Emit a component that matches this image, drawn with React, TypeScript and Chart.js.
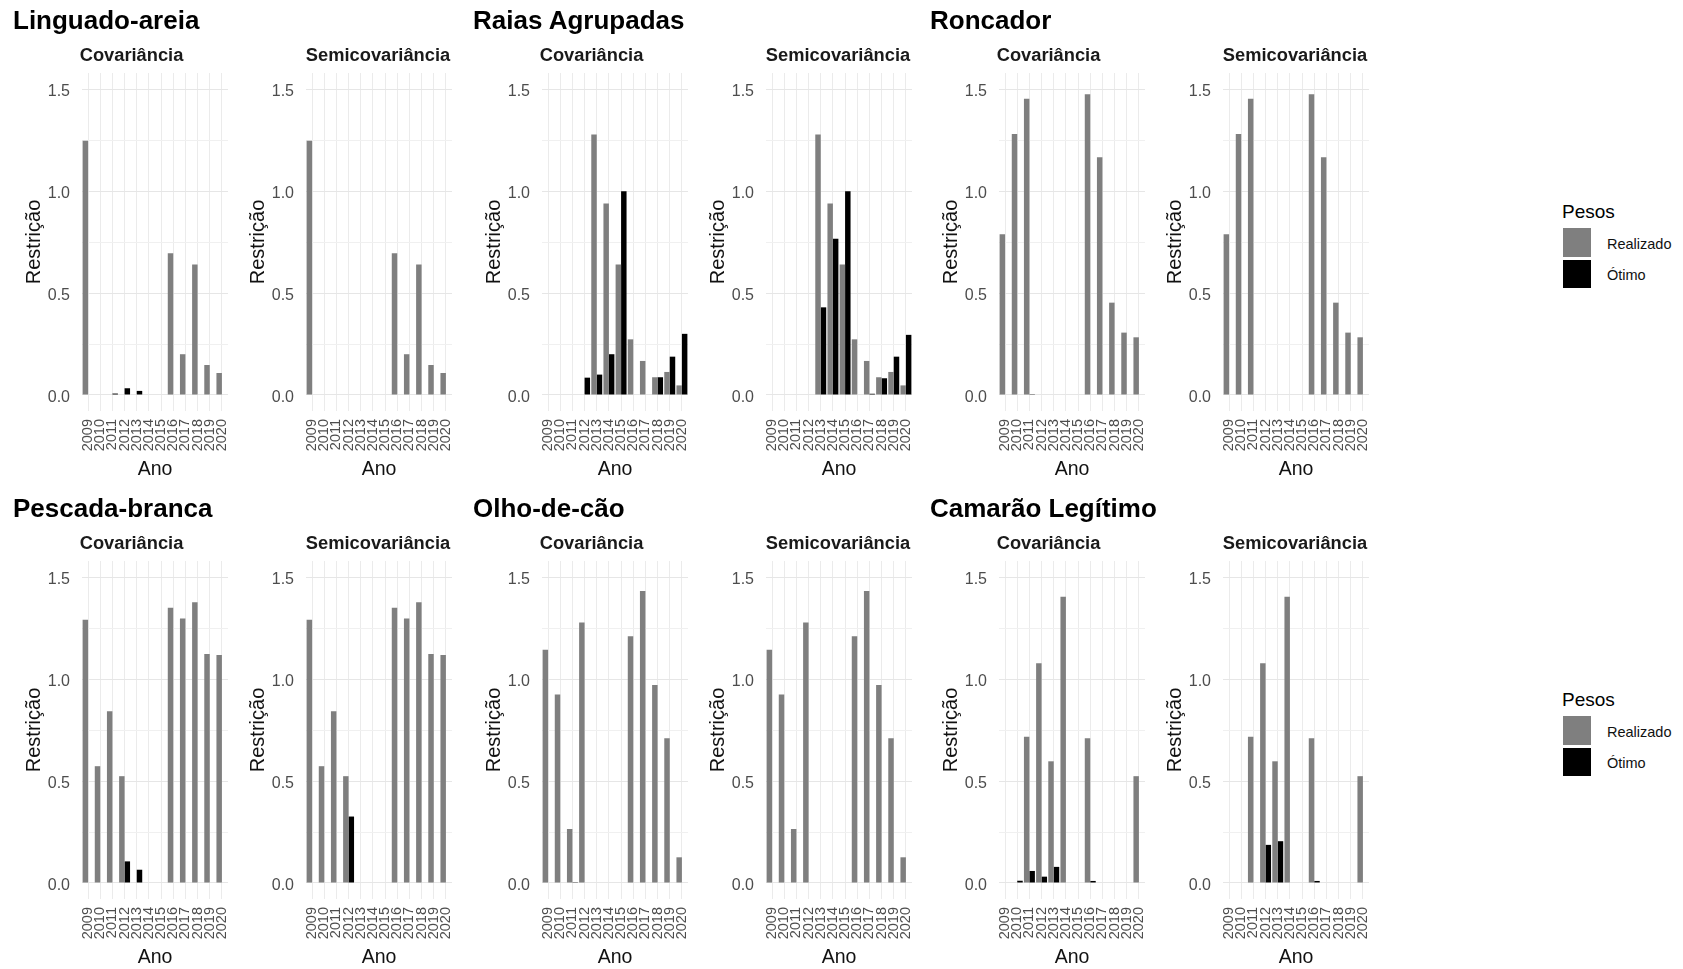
import React, { useEffect, useRef } from 'react';
import { Chart, registerables } from 'chart.js';

Chart.register(...registerables);

const FONT = '"Liberation Sans", Arial, Helvetica, sans-serif';

// ---------- data ----------
const years = ['2009', '2010', '2011', '2012', '2013', '2014', '2015', '2016', '2017', '2018', '2019', '2020'];
const yTickValues = [0, 0.25, 0.5, 0.75, 1, 1.25, 1.5];
const Y_MIN = -0.0786;
const Y_MAX = 1.58;

const speciesNames = ['Linguado-areia', 'Raias Agrupadas', 'Roncador', 'Pescada-branca', 'Olho-de-cão', 'Camarão Legítimo'];
const methodNames = ['Covariância', 'Semicovariância'];
const legendTitle = 'Pesos';
const seriesNames = ['Realizado', 'Ótimo'];
const xTitle = 'Ano';
const yTitle = 'Restrição';

const _ = null;
// Linguado-areia
const linguadoRealizado = [1.247, _, _, _, _, _, _, 0.696, 0.2, 0.64, 0.147, 0.108];
const linguadoCovOtimo = [_, _, 0.007, 0.033, 0.02, _, _, _, _, _, _, _];
const linguadoSemiOtimo = [_, _, _, _, _, _, _, _, _, _, _, _];
// Raias Agrupadas
const raiasRealizado = [_, _, _, _, 1.278, 0.94, 0.64, 0.273, 0.167, 0.087, 0.113, 0.047];
const raiasCovOtimo = [_, _, _, 0.085, 0.1, 0.2, 1.0, _, _, 0.087, 0.188, 0.3];
const raiasSemiOtimo = [_, _, _, _, 0.43, 0.766, 1.0, _, 0.006, 0.082, 0.188, 0.295];
// Roncador
const roncadorRealizado = [0.789, 1.281, 1.453, _, _, _, _, 1.475, 1.167, 0.453, 0.306, 0.283];
const roncadorCovOtimo = [_, _, 0.004, _, _, _, _, _, _, _, _, _];
const roncadorSemiOtimo = [_, _, _, _, _, _, _, _, _, _, _, _];
// Pescada-branca
const pescadaRealizado = [1.291, 0.573, 0.843, 0.524, _, _, _, 1.35, 1.298, 1.378, 1.124, 1.118];
const pescadaCovOtimo = [_, _, _, 0.106, 0.065, _, _, _, _, _, _, _];
const pescadaSemiOtimo = [_, _, _, 0.326, _, _, _, _, _, _, _, _];
// Olho-de-cão
const olhoRealizado = [1.144, 0.925, 0.265, 1.278, _, _, _, 1.21, 1.432, 0.972, 0.71, 0.126];
const olhoCovOtimo = [_, _, 0.004, _, _, _, _, _, _, _, _, _];
const olhoSemiOtimo = [_, _, _, _, _, _, _, _, _, _, _, _];
// Camarão Legítimo
const camaraoRealizado = [_, _, 0.718, 1.078, 0.597, 1.404, _, 0.71, _, _, _, 0.524];
const camaraoCovOtimo = [_, 0.011, 0.059, 0.031, 0.079, _, _, 0.01, _, _, _, _];
const camaraoSemiOtimo = [_, _, _, 0.187, 0.205, _, _, 0.01, _, _, _, _];

const realizadoBySpecies = [linguadoRealizado, raiasRealizado, roncadorRealizado, pescadaRealizado, olhoRealizado, camaraoRealizado];
const otimoBySpecies = [
  [linguadoCovOtimo, linguadoSemiOtimo],
  [raiasCovOtimo, raiasSemiOtimo],
  [roncadorCovOtimo, roncadorSemiOtimo],
  [pescadaCovOtimo, pescadaSemiOtimo],
  [olhoCovOtimo, olhoSemiOtimo],
  [camaraoCovOtimo, camaraoSemiOtimo],
];

// ---------- layout ----------
const BLOCK_X = [0, 460, 917];
const ROW_DY = 488;
const AREA_OFFSET = [82, 306]; // chart area left relative to block
const Y_AXIS_W = 70;
const AREA_W = 146;
const CANVAS_W = [239, 284];
const CANVAS_TOP = 30;
const CANVAS_H = 455;

const isMajor = (v: number) => Math.abs(v * 2 - Math.round(v * 2)) < 1e-9;

type PanelProps = {
  left: number;
  top: number;
  width: number;
  height: number;
  title: string;
  realizado: (number | null)[];
  otimo: (number | null)[];
};

function Panel({ left, top, width, height, title, realizado, otimo }: PanelProps) {
  const ref = useRef<HTMLCanvasElement>(null);
  useEffect(() => {
    const extraRight = width - Y_AXIS_W - AREA_W;
    const chart = new Chart(ref.current as HTMLCanvasElement, {
      type: 'bar',
      data: {
        labels: years,
        datasets: [
          {
            label: seriesNames[0],
            data: realizado,
            backgroundColor: '#7f7f7f',
            borderWidth: 0,
            categoryPercentage: 0.9,
            barPercentage: 1,
          },
          {
            label: seriesNames[1],
            data: otimo,
            backgroundColor: '#000000',
            borderWidth: 0,
            categoryPercentage: 0.9,
            barPercentage: 1,
          },
        ],
      },
      options: {
        responsive: false,
        maintainAspectRatio: false,
        animation: false,
        devicePixelRatio: 1,
        layout: { padding: 0 },
        plugins: {
          legend: { display: false },
          tooltip: { enabled: false },
          title: {
            display: true,
            text: title,
            color: '#1a1a1a',
            font: { family: FONT, size: 18.3, weight: 'bold' },
            padding: { top: 15.0, bottom: 6.0 },
          },
        },
        scales: {
          x: {
            type: 'category',
            offset: true,
            grid: { offset: false, color: '#ebebeb', lineWidth: 1, drawTicks: false },
            border: { display: false },
            ticks: {
              autoSkip: false,
              maxRotation: 90,
              minRotation: 90,
              padding: 8,
              color: '#4d4d4d',
              font: { family: FONT, size: 14.5 },
            },
            title: {
              display: true,
              text: xTitle,
              color: '#111111',
              font: { family: FONT, size: 19.5 },
              padding: { top: 0, bottom: 3.3 },
            },
            afterFit: (s: any) => {
              s.height = 74;
            },
          },
          y: {
            type: 'linear',
            position: 'left',
            min: Y_MIN,
            max: Y_MAX,
            afterBuildTicks: (s: any) => {
              s.ticks = yTickValues.map((v) => ({ value: v }));
            },
            ticks: {
              padding: 12,
              labelOffset: 2.5,
              color: '#4d4d4d',
              font: { family: FONT, size: 16 },
              callback: (v: any) => (isMajor(Number(v)) ? Number(v).toFixed(1) : ''),
            },
            grid: {
              color: (c: any) => (c.tick && isMajor(c.tick.value) ? '#e6e6e6' : '#f0f0f0'),
              lineWidth: 1,
              drawTicks: false,
            },
            border: { display: false },
            title: {
              display: true,
              text: yTitle,
              color: '#111111',
              font: { family: FONT, size: 20 },
              padding: { top: 10.3, bottom: 0 },
            },
            afterFit: (s: any) => {
              s.width = Y_AXIS_W;
            },
          },
          spacer: {
            type: 'linear',
            position: 'right',
            display: true,
            grid: { display: false, drawTicks: false },
            ticks: { display: false },
            border: { display: false },
            afterFit: (s: any) => {
              s.width = extraRight;
            },
          },
        },
      } as any,
    });
    return () => chart.destroy();
  }, [width, height, title, realizado, otimo]);
  return (
    <canvas
      ref={ref}
      width={width}
      height={height}
      style={{ position: 'absolute', left, top, width, height }}
    />
  );
}

function Legend({ top }: { top: number }) {
  const txt = { position: 'absolute' as const, left: 1607, font: `14.5px ${FONT}`, lineHeight: '14.5px', color: '#111', whiteSpace: 'nowrap' as const };
  return (
    <>
      <div style={{ position: 'absolute', left: 1562, top: top + 201.7, font: `19px ${FONT}`, lineHeight: '19px', color: '#000', whiteSpace: 'nowrap' }}>
        {legendTitle}
      </div>
      <div style={{ position: 'absolute', left: 1563, top: top + 228, width: 28, height: 28.5, background: '#7f7f7f' }} />
      <div style={{ position: 'absolute', left: 1563, top: top + 259.5, width: 28, height: 28.5, background: '#000000' }} />
      <div style={{ ...txt, top: top + 244.5 - 7.1 }}>{seriesNames[0]}</div>
      <div style={{ ...txt, top: top + 275.5 - 7.1 }}>{seriesNames[1]}</div>
    </>
  );
}

export default function App() {
  const panels: JSX.Element[] = [];
  const titles: JSX.Element[] = [];
  for (let row = 0; row < 2; row++) {
    for (let b = 0; b < 3; b++) {
      const sp = row * 3 + b;
      const bx = BLOCK_X[b];
      titles.push(
        <div
          key={'t' + sp}
          style={{
            position: 'absolute',
            left: bx + 13,
            top: 7.3 + row * ROW_DY,
            font: `bold 26px ${FONT}`,
            lineHeight: '26px',
            color: '#000',
            whiteSpace: 'nowrap',
          }}
        >
          {speciesNames[sp]}
        </div>
      );
      for (let m = 0; m < 2; m++) {
        const areaLeft = bx + AREA_OFFSET[m];
        panels.push(
          <Panel
            key={'p' + sp + '-' + m}
            left={areaLeft - Y_AXIS_W}
            top={CANVAS_TOP + row * ROW_DY}
            width={CANVAS_W[m]}
            height={CANVAS_H}
            title={methodNames[m]}
            realizado={realizadoBySpecies[sp]}
            otimo={otimoBySpecies[sp][m]}
          />
        );
      }
    }
  }
  return (
    <div style={{ position: 'absolute', left: 0, top: 0, width: 1683, height: 969, background: '#ffffff', overflow: 'hidden' }}>
      {panels}
      {titles}
      <Legend top={0} />
      <Legend top={ROW_DY} />
    </div>
  );
}
